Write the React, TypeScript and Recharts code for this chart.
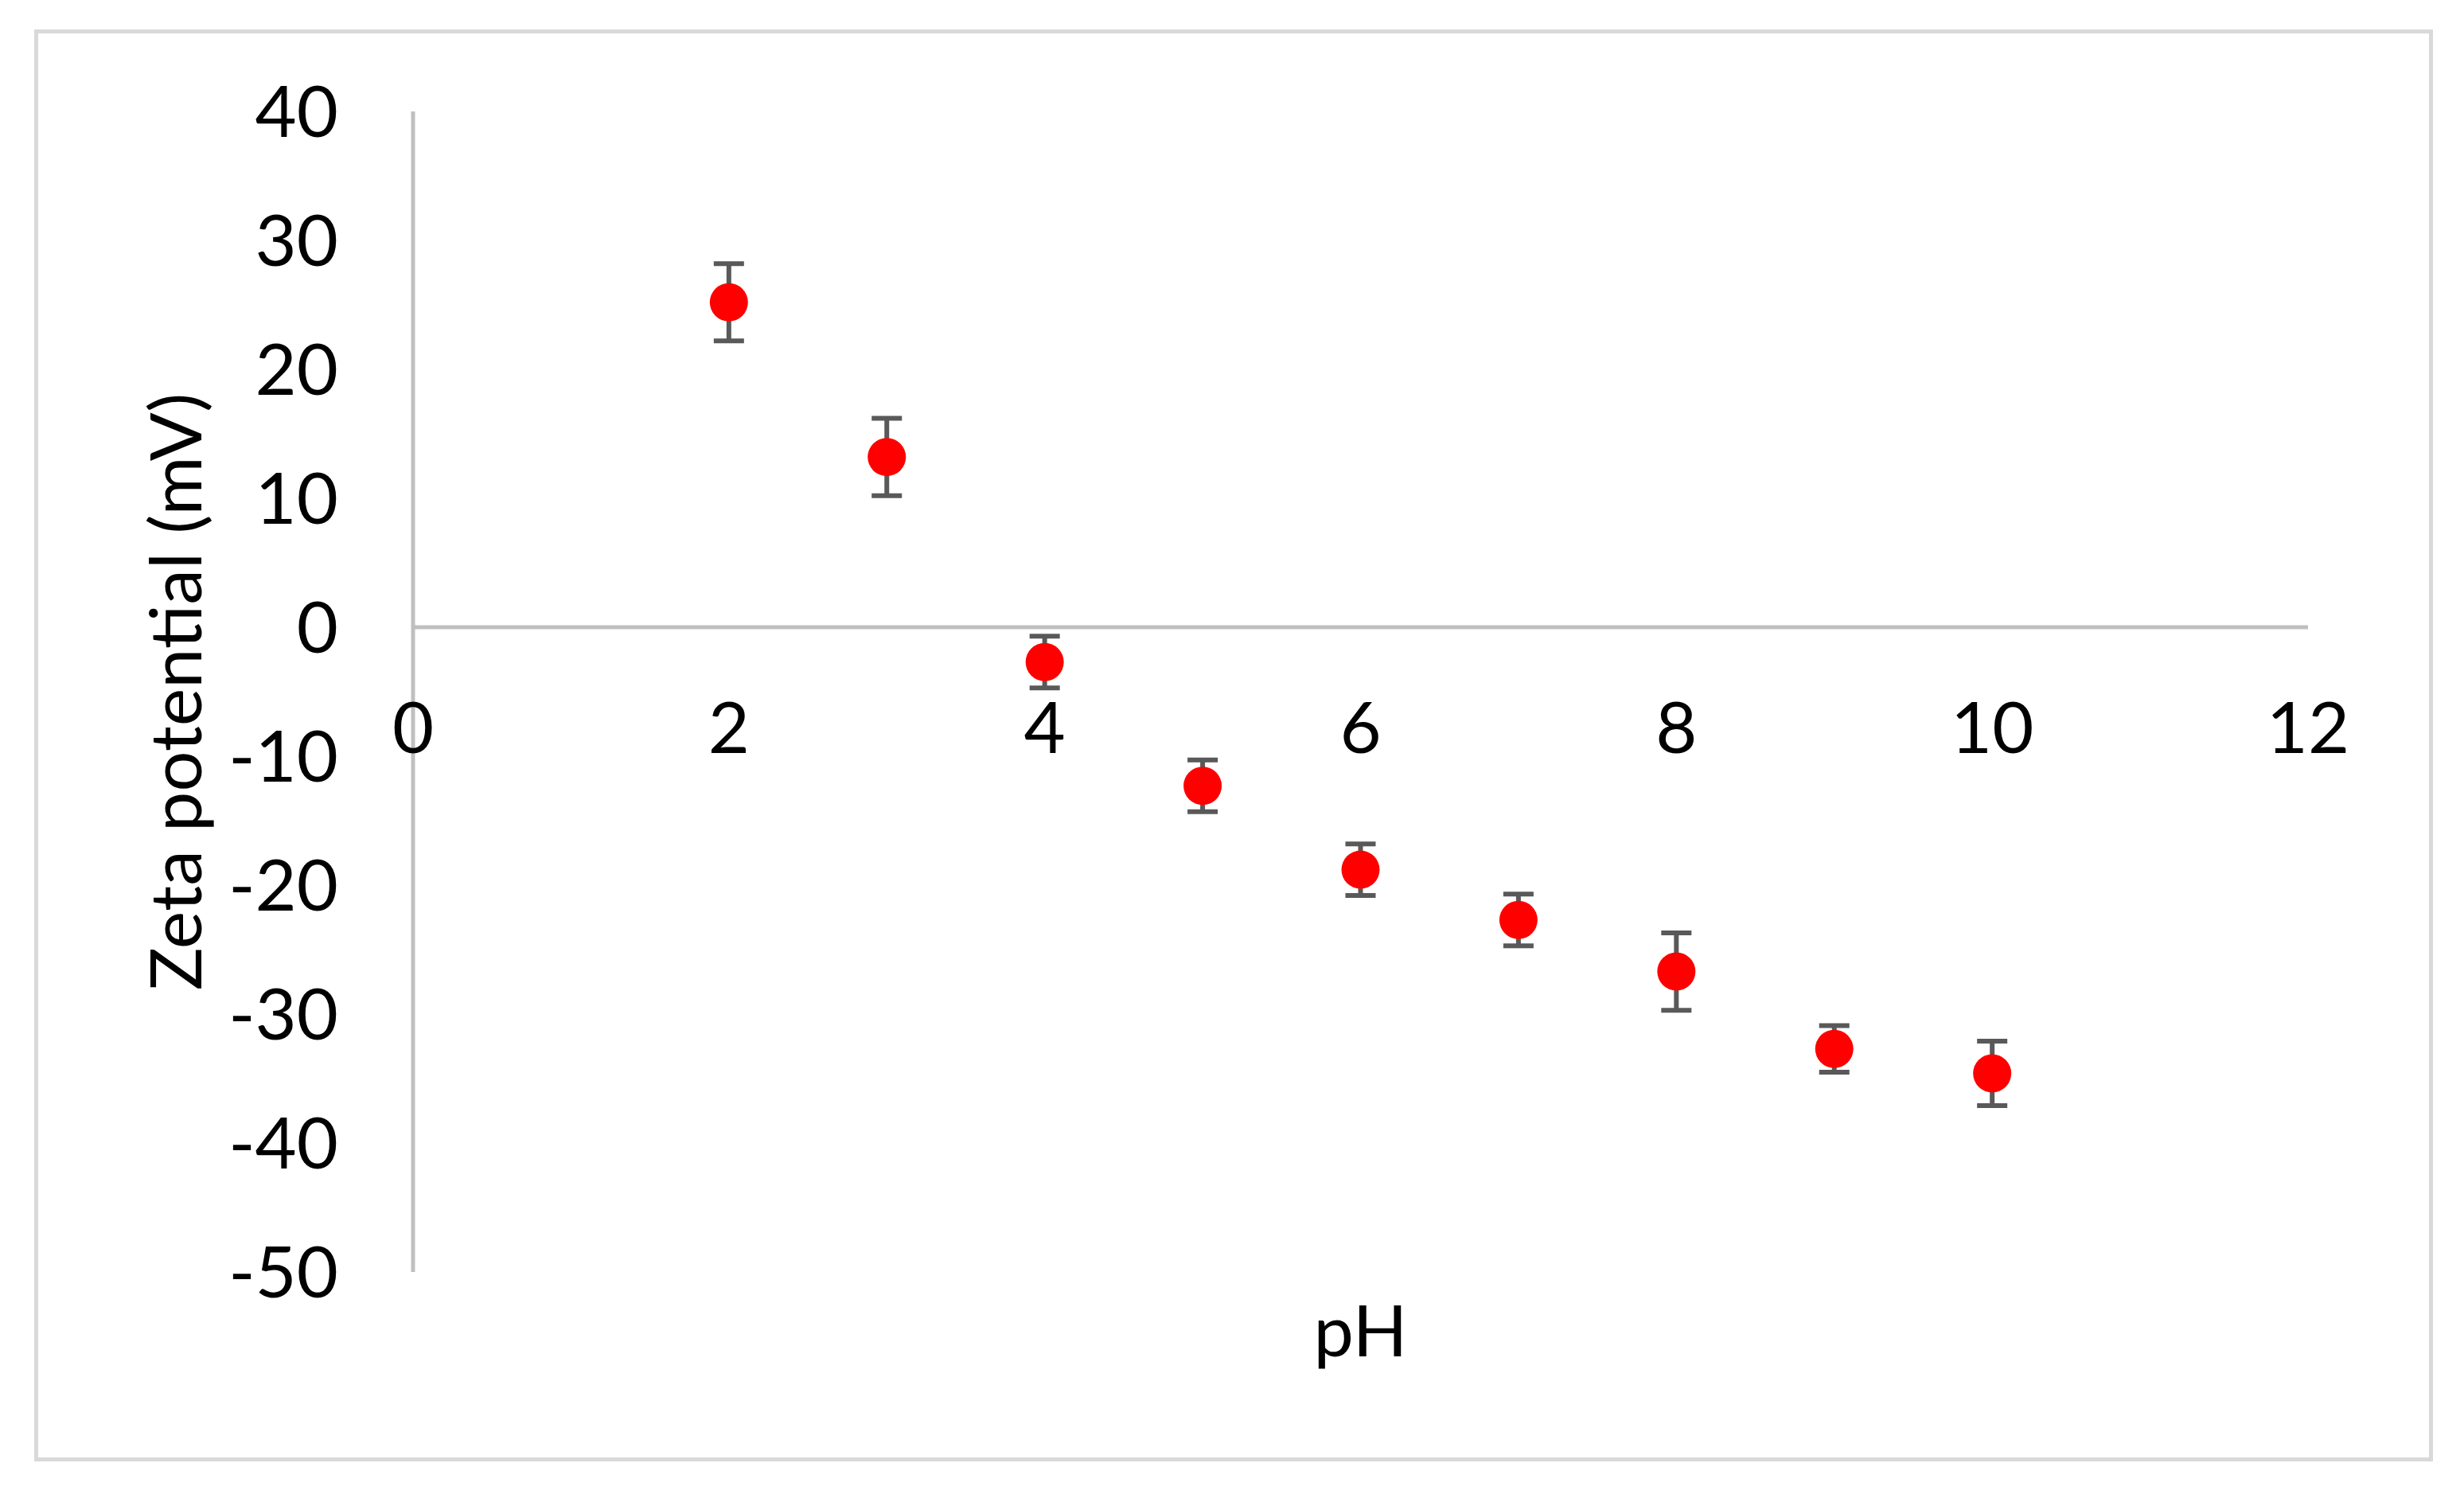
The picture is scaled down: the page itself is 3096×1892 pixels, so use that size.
import React from 'react';
import { ScatterChart, Scatter, XAxis, YAxis, ErrorBar, ReferenceLine } from 'recharts';

// measured values (pH vs zeta potential, mV)
const phValues = [2, 3, 4, 5, 6, 7, 8, 9, 10];
const zetaValues = [25.2, 13.2, -2.7, -12.3, -18.8, -22.7, -26.7, -32.7, -34.6];
const zetaErrors = [3.0, 3.0, 2.0, 2.0, 2.0, 2.0, 3.0, 1.8, 2.5];

const xTicks = [0, 2, 4, 6, 8, 10, 12];
const yTicks = [-50, -40, -30, -20, -10, 0, 10, 20, 30, 40];

const data = phValues.map((ph, i) => ({ ph, zeta: zetaValues[i], err: zetaErrors[i] }));

const W = 3080;
const H = 1876;
const MARGIN = { top: 132, right: 188, bottom: 0, left: 0 };
const Y_AXIS_W = 511;
const X_AXIS_H = 286;
const Y_MIN = -50;
const Y_MAX = 40;
const PLOT_H = H - MARGIN.top - X_AXIS_H;
// labels of the x axis sit under the y = 0 crossing, like Excel does
const ZERO_Y = MARGIN.top + (Y_MAX / (Y_MAX - Y_MIN)) * PLOT_H;

const FONT = 'Lato, "Open Sans", sans-serif';
const FONT_SIZE = 90;

const XTick = (props: any) => {
  const { x, payload } = props;
  return (
    <text x={x} y={ZERO_Y + 126} dy="0.355em" textAnchor="middle" fill="#000" fontSize={FONT_SIZE} fontFamily={FONT}>
      {payload.value}
    </text>
  );
};

const Dot = (props: any) => <circle cx={props.cx} cy={props.cy} r={24} fill="#ff0000" />;

export default function App() {
  return (
    <div style={{ position: 'relative', width: W, height: H, background: '#fff' }}>
      <div
        style={{
          position: 'absolute',
          left: 35,
          top: 29,
          width: 3014,
          height: 1799,
          border: '5px solid #d9d9d9',
          boxSizing: 'border-box',
        }}
      />
      <div style={{ position: 'absolute', left: 0, top: 0 }}>
        <ScatterChart width={W} height={H} margin={MARGIN}>
          <XAxis
            type="number"
            dataKey="ph"
            domain={[0, 12]}
            ticks={xTicks}
            height={X_AXIS_H}
            axisLine={false}
            tickLine={false}
            tick={<XTick />}
            label={{ value: 'pH', position: 'insideTop', offset: 42, fill: '#000', fontSize: FONT_SIZE, fontFamily: FONT }}
          />
          <YAxis
            type="number"
            dataKey="zeta"
            domain={[Y_MIN, Y_MAX]}
            ticks={yTicks}
            width={Y_AXIS_W}
            axisLine={{ stroke: '#bfbfbf', strokeWidth: 5 }}
            tickLine={false}
            tickSize={0}
            tickMargin={94}
            tick={{ fill: '#000', fontSize: FONT_SIZE, fontFamily: FONT }}
            label={{
              value: 'Zeta potential (mV)',
              angle: -90,
              position: 'insideLeft',
              offset: 213,
              fill: '#000',
              fontSize: FONT_SIZE,
              fontFamily: FONT,
              style: { textAnchor: 'middle' },
            }}
          />
          <ReferenceLine y={0} stroke="#bfbfbf" strokeWidth={5} />
          <Scatter data={data} shape={<Dot />} isAnimationActive={false}>
            <ErrorBar dataKey="err" direction="y" width={19} stroke="#595959" strokeWidth={6} />
          </Scatter>
        </ScatterChart>
      </div>
    </div>
  );
}
